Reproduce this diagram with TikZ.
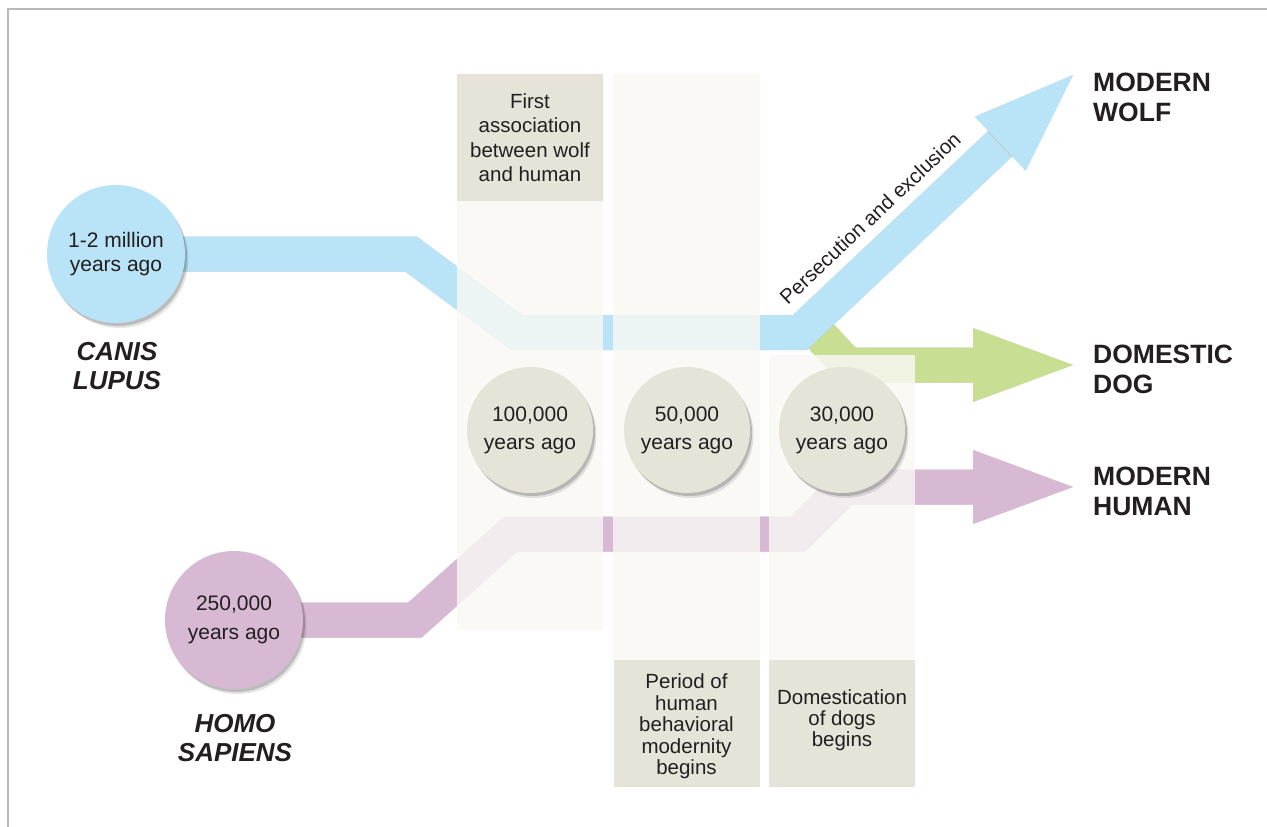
\documentclass[tikz,border=0pt]{standalone}
\usepackage{fontspec}
\setmainfont{Liberation Sans}
\usetikzlibrary{calc}
\definecolor{wolfblue}{HTML}{B9E3F7}
\definecolor{doggreen}{HTML}{C8DE92}
\definecolor{humanpink}{HTML}{D7B9D3}
\definecolor{beige}{HTML}{E6E4D8}
\definecolor{colbg}{HTML}{F9F8F4}
\definecolor{ink}{HTML}{231F20}
\begin{document}
\begin{tikzpicture}[x=1pt,y=-1pt,
  band/.style={line width=35pt, line join=miter, line cap=butt},
  bandshadow/.style={band, black, opacity=0.22, shift={(1.5,2.5)}},
  headshadow/.style={fill=black, fill opacity=0.22, shift={(1.5,2.5)}},
  overlay/.style={fill=colbg, fill opacity=0.82},
  softshadow/.style={preaction={fill=black, fill opacity=0.10, transform canvas={shift={(3.5pt,-5pt)}}},
                     preaction={fill=black, fill opacity=0.18, transform canvas={shift={(2pt,-3pt)}}}},
  ring/.style={circle, inner sep=0pt, softshadow, text=ink, align=center},
  timecirc/.style={ring, fill=beige, minimum size=126pt, font=\fontsize{21}{28}\selectfont},
  startcirc/.style={ring, minimum size=138pt},
  infobox/.style={fill=beige, inner sep=0pt, minimum width=146pt, minimum height=127pt, text=ink, align=center},
  boxtext/.style={text=ink, align=center, inner sep=0pt},
  endlabel/.style={anchor=west, inner sep=0pt, text=ink, align=left, font=\fontsize{26.5}{30}\selectfont\bfseries},
  species/.style={inner sep=0pt, text=ink, align=center, font=\fontsize{26}{28.5}\selectfont\bfseries\itshape}
]
\useasboundingbox (0,0) rectangle (1267,827);
% frame
\draw[gray!55, line width=1.4pt] (8,827) -- (8,9) -- (1267,9);

% route points
\coordinate (w0) at (116,254);
\coordinate (w1) at (411,254);
\coordinate (w2) at (516.5,332.5);
\coordinate (w3) at (800,332.5);
\coordinate (wT) at (1073,75);
\coordinate (wB) at ($(wT)!100pt!(w3)$);

\coordinate (d0) at (815,330);
\coordinate (d1) at (848,365);
\coordinate (dB) at (973,365);
\coordinate (dT) at (1073,365);

\coordinate (h0) at (234,620);
\coordinate (h1) at (415,620);
\coordinate (h2) at (511,534);
\coordinate (h3) at (798,534);
\coordinate (h4) at (845,487);
\coordinate (hB) at (973,487);
\coordinate (hT) at (1073,487);

% green: domestic dog
\draw[bandshadow] (d0) -- (d1) -- (dB);
\fill[headshadow] ($(dB)!37pt!90:(dT)$) -- (dT) -- ($(dB)!37pt!-90:(dT)$) -- cycle;
\draw[band, doggreen] (d0) -- (d1) -- ($(dB)+(1,0)$);
\fill[doggreen] ($(dB)!37pt!90:(dT)$) -- (dT) -- ($(dB)!37pt!-90:(dT)$) -- cycle;

% blue: wolf
\draw[bandshadow] (w0) -- (w1) -- (w2) -- (w3) -- (wB);
\fill[headshadow] ($(wB)!37pt!90:(wT)$) -- (wT) -- ($(wB)!37pt!-90:(wT)$) -- cycle;
\draw[band, wolfblue] (w0) -- (w1) -- (w2) -- (w3) -- ($(wB)!-1pt!(wT)$);
\fill[wolfblue] ($(wB)!37pt!90:(wT)$) -- (wT) -- ($(wB)!37pt!-90:(wT)$) -- cycle;

% pink: human
\draw[bandshadow] (h0) -- (h1) -- (h2) -- (h3) -- (h4) -- (hB);
\fill[headshadow] ($(hB)!37pt!90:(hT)$) -- (hT) -- ($(hB)!37pt!-90:(hT)$) -- cycle;
\draw[band, humanpink] (h0) -- (h1) -- (h2) -- (h3) -- (h4) -- ($(hB)+(1,0)$);
\fill[humanpink] ($(hB)!37pt!90:(hT)$) -- (hT) -- ($(hB)!37pt!-90:(hT)$) -- cycle;

% column overlays
\fill[overlay] (457,200) rectangle (603,630);
\fill[overlay] (613,74) rectangle (760,660);
\fill[overlay] (769,355) rectangle (915,660);

% boxes
\node[infobox, font=\fontsize{20.5}{24.5}\selectfont] (firstbox) at (530,137.5)
  {First\\association\\between wolf\\and human};
\node[infobox] (periodbox) at (686.5,723.5) {};
\node[boxtext, font=\fontsize{20.5}{21.5}\selectfont] (periodtext) at (686.5,726.5)
  {Period of\\human\\behavioral\\modernity\\begins};
\node[infobox] (domesbox) at (842,723.5) {};
\node[boxtext, font=\fontsize{20.5}{21.3}\selectfont] (domestext) at (842,720)
  {Domestication\\of dogs\\begins};

% time circles
\node[timecirc] (c100) at (530,430) {100,000\\years ago};
\node[timecirc] (c50) at (687,430) {50,000\\years ago};
\node[timecirc] (c30) at (842,430) {30,000\\years ago};

% starting circles
\node[startcirc, fill=wolfblue, font=\fontsize{21}{24}\selectfont] (canis) at (w0) {1-2 million\\years ago};
\node[startcirc, fill=humanpink, font=\fontsize{21}{28.5}\selectfont] (homo) at (h0) {250,000\\years ago};

% species labels
\node[species] (canislabel) at (117,366) {CANIS\\LUPUS};
\node[species] (homolabel) at (235,738) {HOMO\\SAPIENS};

% end labels
\node[endlabel] (wolflabel) at (1093,97) {MODERN\\WOLF};
\node[endlabel] (doglabel) at (1093,369.5) {DOMESTIC\\DOG};
\node[endlabel] (humanlabel) at (1093,491.5) {MODERN\\HUMAN};

% route label
\node[text=ink, inner sep=0pt, rotate=43.3, font=\fontsize{20.5}{24}\selectfont] (persec) at (870,218) {Persecution and exclusion};
\end{tikzpicture}
\end{document}
